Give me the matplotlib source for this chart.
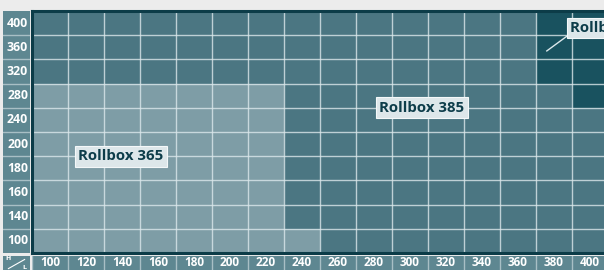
import matplotlib
matplotlib.use("Agg")
import matplotlib.pyplot as plt
import numpy as np
from matplotlib.colors import ListedColormap

# ---- data ----
lengths = [100, 120, 140, 160, 180, 200, 220, 240, 260, 280, 300, 320, 340, 360, 380, 400]
heights = [100, 140, 160, 180, 200, 240, 280, 320, 360, 400]
models = ["Rollbox 365", "Rollbox 385", "Rollbox 4xx"]
# model index per cell, one list per height (bottom to top), one entry per length
zone_100 = [0, 0, 0, 0, 0, 0, 0, 0, 1, 1, 1, 1, 1, 1, 1, 1]
zone_140 = [0, 0, 0, 0, 0, 0, 0, 1, 1, 1, 1, 1, 1, 1, 1, 1]
zone_160 = [0, 0, 0, 0, 0, 0, 0, 1, 1, 1, 1, 1, 1, 1, 1, 1]
zone_180 = [0, 0, 0, 0, 0, 0, 0, 1, 1, 1, 1, 1, 1, 1, 1, 1]
zone_200 = [0, 0, 0, 0, 0, 0, 0, 1, 1, 1, 1, 1, 1, 1, 1, 1]
zone_240 = [0, 0, 0, 0, 0, 0, 0, 1, 1, 1, 1, 1, 1, 1, 1, 1]
zone_280 = [0, 0, 0, 0, 0, 0, 0, 1, 1, 1, 1, 1, 1, 1, 1, 2]
zone_320 = [1, 1, 1, 1, 1, 1, 1, 1, 1, 1, 1, 1, 1, 1, 2, 2]
zone_360 = [1, 1, 1, 1, 1, 1, 1, 1, 1, 1, 1, 1, 1, 1, 2, 2]
zone_400 = [1, 1, 1, 1, 1, 1, 1, 1, 1, 1, 1, 1, 1, 1, 2, 2]
zones = np.array([zone_100, zone_140, zone_160, zone_180, zone_200,
                  zone_240, zone_280, zone_320, zone_360, zone_400])

# ---- style ----
W, H = 604, 270
c_light = "#7e9da6"
c_mid = "#4b7682"
c_dark = "#19525f"
c_border = "#0c3c48"
c_lab = "#5e8791"
c_box = "#dde7ea"
c_text = "#0d3d4a"
grid_c = "#dce8eb"

fig = plt.figure(figsize=(W / 100, H / 100), dpi=100, facecolor="#ececec")

def px_axes(x0, y0, x1, y1):
    return fig.add_axes([x0 / W, 1 - y1 / H, (x1 - x0) / W, (y1 - y0) / H])

nx, ny = len(lengths), len(heights)

# main grid
ax = px_axes(32, 11, 608, 253)
ax.imshow(zones, origin="lower", aspect="auto",
          cmap=ListedColormap([c_light, c_mid, c_dark]), vmin=-0.5, vmax=2.5,
          extent=(-0.5, nx - 0.5, -0.5, ny - 0.5), interpolation="nearest")
for i in range(1, nx):
    ax.axvline(i - 0.5, color=grid_c, lw=1.0, alpha=0.8)
for j in range(1, ny):
    ax.axhline(j - 0.5, color=grid_c, lw=1.0, alpha=0.8)
ax.set_xlim(-0.5, nx - 0.5)
ax.set_ylim(-0.5, ny - 0.5)
ax.set_xticks([]); ax.set_yticks([])
for s in ax.spines.values():
    s.set_color(c_border); s.set_linewidth(2.2)

box = dict(boxstyle="square,pad=0.22", fc=c_box, ec="#f4f8f9", lw=0.8)
tkw = dict(fontsize=10.8, fontweight="bold", color=c_text, family="Open Sans",
           va="center", bbox=box)
ax.text(1.97, 3.5, models[0], ha="center", **tkw)
ax.text(10.33, 5.5, models[1], ha="center", **tkw)
ax.plot([13.8, 14.35], [7.85, 8.45], color=grid_c, lw=1.0)
ax.text(14.45, 8.8, models[2], ha="left", clip_on=False, **tkw)

# left label column (heights)
axl = px_axes(3, 11, 30, 253)
axl.set_facecolor(c_lab)
axl.set_xlim(0, 1); axl.set_ylim(-0.5, ny - 0.5)
for j in range(1, ny):
    axl.axhline(j - 0.5, color="#a8bfc5", lw=1.0)
for j, h in enumerate(heights):
    axl.text(0.93, j, str(h), ha="right", va="center", color="white",
             fontsize=8.8, fontweight="bold", family="Open Sans")
axl.set_xticks([]); axl.set_yticks([])
for s in axl.spines.values():
    s.set_visible(False)

# corner H/L
axc = px_axes(3, 256, 30, 270)
axc.set_facecolor(c_lab)
axc.set_xlim(0, 1); axc.set_ylim(0, 1)
axc.plot([0.2, 0.8], [0.1, 0.75], color="white", lw=0.8)
axc.text(0.2, 0.85, "H", ha="center", va="center", color="white", fontsize=4.5,
         fontweight="bold")
axc.text(0.8, 0.2, "L", ha="center", va="center", color="white", fontsize=4.5,
         fontweight="bold")
axc.set_xticks([]); axc.set_yticks([])
for s in axc.spines.values():
    s.set_visible(False)

# bottom label row (lengths)
axb = px_axes(32, 256, 608, 270)
axb.set_facecolor(c_lab)
axb.set_xlim(-0.5, nx - 0.5); axb.set_ylim(0, 1)
for i in range(0, nx):
    axb.axvline(i - 0.5, color="#a8bfc5", lw=1.0)
for i, l in enumerate(lengths):
    axb.text(i, 0.5, str(l), ha="center", va="center", color="white",
             fontsize=8.5, fontweight="bold", family="Open Sans")
axb.set_xticks([]); axb.set_yticks([])
for s in axb.spines.values():
    s.set_visible(False)

fig.savefig("out.png", dpi=100, facecolor=fig.get_facecolor())
